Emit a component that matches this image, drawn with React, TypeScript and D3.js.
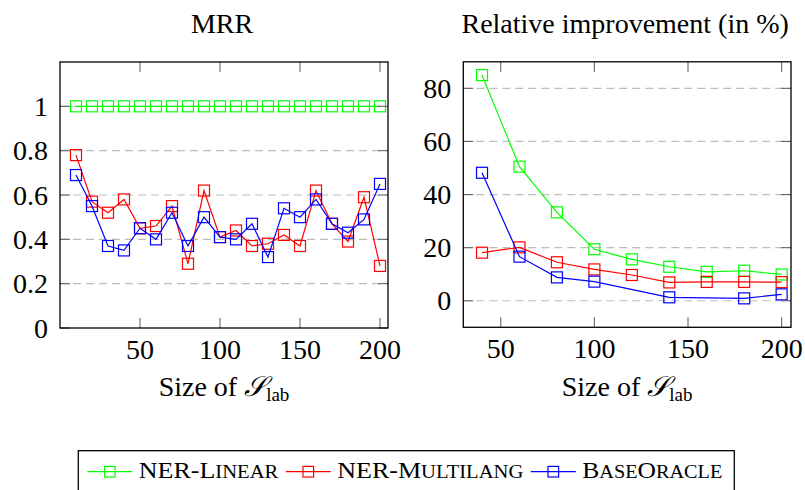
import React, { useEffect, useRef } from 'react';
import * as d3 from 'd3';

// MRR panel (left)
const mrrSizes = [10, 20, 30, 40, 50, 60, 70, 80, 90, 100, 110, 120, 130, 140, 150, 160, 170, 180, 190, 200];
const mrrLinear = [1, 1, 1, 1, 1, 1, 1, 1, 1, 1, 1, 1, 1, 1, 1, 1, 1, 1, 1, 1];
const mrrMultilang = [0.78, 0.57, 0.52, 0.58, 0.45, 0.46, 0.55, 0.29, 0.62, 0.41, 0.44, 0.37, 0.38, 0.42, 0.37, 0.62, 0.47, 0.39, 0.59, 0.28];
const mrrOracle = [0.69, 0.55, 0.37, 0.35, 0.45, 0.40, 0.52, 0.37, 0.50, 0.41, 0.40, 0.47, 0.32, 0.54, 0.50, 0.58, 0.47, 0.43, 0.49, 0.65];

// Relative improvement panel (right)
const relSizes = [40, 60, 80, 100, 120, 140, 160, 180, 200];
const relLinear = [85.0, 50.5, 33.3, 19.4, 15.6, 12.8, 10.9, 11.3, 9.9];
const relMultilang = [18.1, 20.1, 14.5, 11.8, 9.7, 6.9, 7.1, 7.1, 7.0];
const relOracleSizes = [40, 60, 80, 100, 140, 180, 200];
const relOracle = [48.2, 16.6, 8.8, 7.2, 1.3, 0.9, 2.4];

const xTicks = [50, 100, 150, 200];
const mrrYTicks = [0, 0.2, 0.4, 0.6, 0.8, 1];
const relYTicks = [0, 20, 40, 60, 80];

// legend labels: [full-size part, small-caps part] pairs
const seriesNames = [
    [['NER-L', 'inear']],
    [['NER-M', 'ultilang']],
    [['B', 'ase'], ['O', 'racle']],
];
const seriesColors = ['#00ff00', '#ff0000', '#0000ff'];

const FONT = '"Liberation Serif", "Times New Roman", serif';

interface Series {
    xs: number[];
    ys: number[];
    color: string;
}

const drawPanel = (
    svg: d3.Selection<SVGSVGElement, unknown, null, undefined>,
    x: d3.ScaleLinear<number, number>,
    y: d3.ScaleLinear<number, number>,
    yTicks: number[],
    series: Series[],
    title: string,
) => {
    const [x0, x1] = x.range();
    const [y0, y1] = y.range();
    const g = svg.append('g');

    // dashed grid
    yTicks.forEach((t) => {
        const yy = y(t);
        if (Math.abs(yy - y0) < 1 || Math.abs(yy - y1) < 1) return;
        g.append('line')
            .attr('x1', x0).attr('x2', x1)
            .attr('y1', yy).attr('y2', yy)
            .attr('stroke', '#bdbdbd')
            .attr('stroke-width', 1.2)
            .attr('stroke-dasharray', '8,5');
    });

    // series
    series.forEach((s) => {
        const pts: [number, number][] = s.xs.map((v, i) => [x(v), y(s.ys[i])]);
        g.append('path')
            .attr('d', d3.line()(pts))
            .attr('fill', 'none')
            .attr('stroke', s.color)
            .attr('stroke-width', 1.2);
        g.selectAll(null)
            .data(pts)
            .enter()
            .append('rect')
            .attr('x', (d) => d[0] - 5.5)
            .attr('y', (d) => d[1] - 5.5)
            .attr('width', 11)
            .attr('height', 11)
            .attr('fill', 'none')
            .attr('stroke', s.color)
            .attr('stroke-width', 1.2);
    });

    // inward ticks on all sides
    const tickLen = 10;
    xTicks.forEach((t) => {
        const xx = x(t);
        g.append('line').attr('x1', xx).attr('x2', xx).attr('y1', y0).attr('y2', y0 - tickLen)
            .attr('stroke', '#666').attr('stroke-width', 1.1);
        g.append('line').attr('x1', xx).attr('x2', xx).attr('y1', y1).attr('y2', y1 + tickLen)
            .attr('stroke', '#666').attr('stroke-width', 1.1);
        g.append('text')
            .attr('x', xx)
            .attr('y', y0 + 31)
            .attr('text-anchor', 'middle')
            .style('font-family', FONT)
            .style('font-size', '28px')
            .text(String(t));
    });
    yTicks.forEach((t) => {
        const yy = y(t);
        g.append('line').attr('x1', x0).attr('x2', x0 + tickLen).attr('y1', yy).attr('y2', yy)
            .attr('stroke', '#666').attr('stroke-width', 1.1);
        g.append('line').attr('x1', x1).attr('x2', x1 - tickLen).attr('y1', yy).attr('y2', yy)
            .attr('stroke', '#666').attr('stroke-width', 1.1);
        g.append('text')
            .attr('x', x0 - 12)
            .attr('y', yy + 9.5)
            .attr('text-anchor', 'end')
            .style('font-family', FONT)
            .style('font-size', '28px')
            .text(String(t));
    });

    // frame
    g.append('rect')
        .attr('x', x0)
        .attr('y', y1)
        .attr('width', x1 - x0)
        .attr('height', y0 - y1)
        .attr('fill', 'none')
        .attr('stroke', '#000')
        .attr('stroke-width', 1.3);

    const cx = (x0 + x1) / 2;
    g.append('text')
        .attr('x', cx - 2)
        .attr('y', 33)
        .attr('text-anchor', 'middle')
        .style('font-family', FONT)
        .style('font-size', '28px')
        .text(title);

    const lab = g.append('text')
        .attr('x', cx)
        .attr('y', 396)
        .attr('text-anchor', 'middle')
        .style('font-family', FONT)
        .style('font-size', '28px');
    lab.append('tspan').text('Size of ');
    lab.append('tspan').style('font-style', 'italic').text('\u{1D4AE}');
    lab.append('tspan').attr('dy', 5).style('font-size', '19px').text('lab');
};

const App: React.FC = () => {
    const svgRef = useRef<SVGSVGElement>(null);

    useEffect(() => {
        if (!svgRef.current) return;
        const svg = d3.select(svgRef.current);
        svg.selectAll('*').remove();

        const xL = d3.scaleLinear().domain([0, 205]).range([60, 388]);
        const yL = d3.scaleLinear().domain([0, 1.2]).range([328, 62]);
        drawPanel(svg, xL, yL, mrrYTicks, [
            { xs: mrrSizes, ys: mrrLinear, color: seriesColors[0] },
            { xs: mrrSizes, ys: mrrMultilang, color: seriesColors[1] },
            { xs: mrrSizes, ys: mrrOracle, color: seriesColors[2] },
        ], 'MRR');

        const xR = d3.scaleLinear().domain([30, 205]).range([463.3, 791]);
        const yR = d3.scaleLinear().domain([-10, 90]).range([327.3, 61.8]);
        drawPanel(svg, xR, yR, relYTicks, [
            { xs: relSizes, ys: relLinear, color: seriesColors[0] },
            { xs: relSizes, ys: relMultilang, color: seriesColors[1] },
            { xs: relOracleSizes, ys: relOracle, color: seriesColors[2] },
        ], 'Relative improvement (in %)');

        // legend
        const lg = svg.append('g');
        lg.append('rect')
            .attr('x', 78.3).attr('y', 450.7)
            .attr('width', 656).attr('height', 60)
            .attr('fill', '#fff')
            .attr('stroke', '#000')
            .attr('stroke-width', 1.3);
        const textWidths = [139.5, 186, 140];
        let cur = 87.3;
        const ly = 471.7;
        seriesNames.forEach((parts, i) => {
            lg.append('line')
                .attr('x1', cur).attr('x2', cur + 45)
                .attr('y1', ly).attr('y2', ly)
                .attr('stroke', seriesColors[i])
                .attr('stroke-width', 1.2);
            lg.append('rect')
                .attr('x', cur + 22.5 - 5.3).attr('y', ly - 5.3)
                .attr('width', 10.6).attr('height', 10.6)
                .attr('fill', 'none')
                .attr('stroke', seriesColors[i])
                .attr('stroke-width', 1.2);
            const t = lg.append('text')
                .attr('x', cur + 51.5)
                .attr('y', 478.3)
                .attr('textLength', textWidths[i])
                .attr('lengthAdjust', 'spacingAndGlyphs')
                .style('font-family', FONT)
                .style('font-size', '24px');
            parts.forEach(([big, small]) => {
                t.append('tspan').text(big);
                t.append('tspan').style('font-size', '19px').text(small.toUpperCase());
            });
            cur = cur + 51.5 + textWidths[i] + 7.5;
        });
    }, []);

    return (
        <svg
            ref={svgRef}
            width={805}
            height={490}
            style={{ position: 'absolute', left: 0, top: 0, background: '#fff' }}
        />
    );
};

export default App;
